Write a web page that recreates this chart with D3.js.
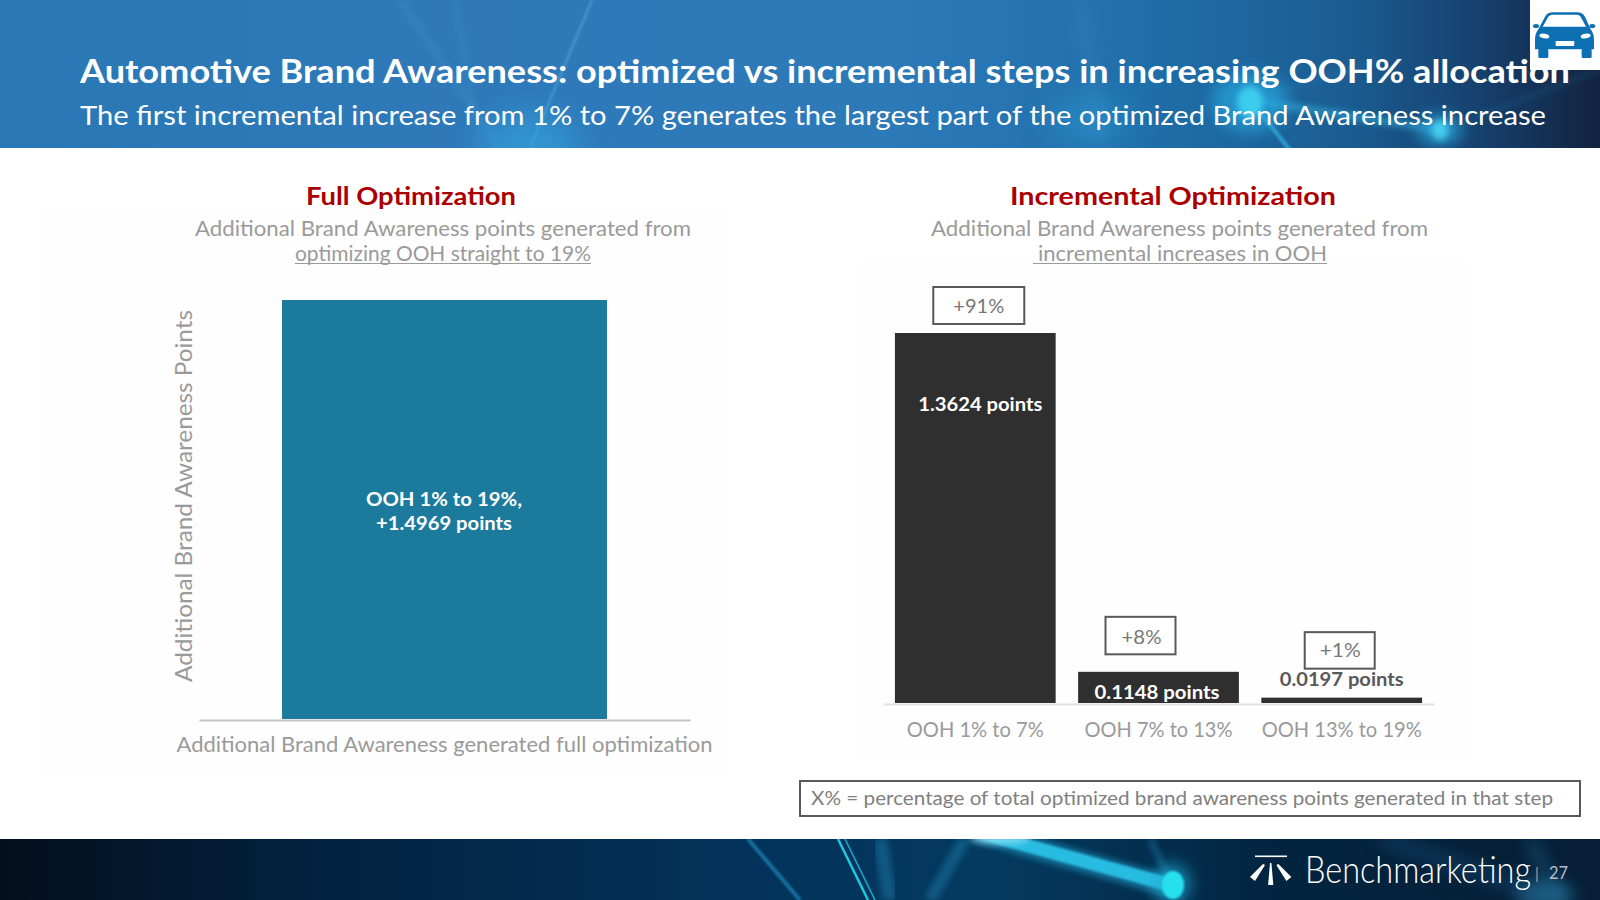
<!DOCTYPE html>
<html><head><meta charset="utf-8">
<script src="https://cdn.jsdelivr.net/npm/d3@7"></script>
<style>html,body{margin:0;padding:0;background:#fff}svg{display:block}text{font-family:Lato,"Open Sans",sans-serif}</style>
</head><body><svg id="c" width="1600" height="900"></svg>
<script>
const headline = "Automotive Brand Awareness: optimized vs incremental steps in increasing OOH% allocation";
const subhead = "The first incremental increase from 1% to 7% generates the largest part of the optimized Brand Awareness increase";
const fullTitle = "Full Optimization";
const fullSub = ["Additional Brand Awareness points generated from", "optimizing OOH straight to 19%"];
const incTitle = "Incremental Optimization";
const incSub = ["Additional Brand Awareness points generated from", "incremental increases in OOH"];
const fullCategories = ["Additional Brand Awareness generated full optimization"];
const fullValues = [1.4969];
const fullBarLabel = ["OOH 1% to 19%,", "+1.4969 points"];
const yAxisLabel = "Additional Brand Awareness Points";
const incCategories = ["OOH 1% to 7%", "OOH 7% to 13%", "OOH 13% to 19%"];
const incValues = [1.3624, 0.1148, 0.0197];
const incPointLabels = ["1.3624 points", "0.1148 points", "0.0197 points"];
const incShares = ["+91%", "+8%", "+1%"];
const footnote = "X%  = percentage of total optimized brand awareness points generated in that step";
const brand = "Benchmarketing";
const pageNumber = "27";

const svg = d3.select("#c");
const defs = svg.append("defs");
function grad(id, stops){
  const g = defs.append("linearGradient").attr("id", id);
  stops.forEach(s => g.append("stop").attr("offset", s[0]).attr("stop-color", s[1]));
}
grad("hdr", [[0,"#2a78b5"],[.3,"#2f79b9"],[.55,"#2d7ab9"],[.72,"#1f6ea9"],[.84,"#1b5d92"],[.92,"#164270"],[1,"#12233f"]]);
grad("ftr", [[0,"#030f1e"],[.2,"#03223f"],[.45,"#03325a"],[.62,"#043a60"],[.8,"#03243f"],[1,"#081e36"]]);
[1,3,8,16].forEach(b => defs.append("filter").attr("id","b"+b).attr("x","-50%").attr("y","-50%").attr("width","200%").attr("height","200%")
  .append("feGaussianBlur").attr("stdDeviation", b));
defs.append("clipPath").attr("id","hc").append("rect").attr("width",1600).attr("height",148);
defs.append("clipPath").attr("id","fc").append("rect").attr("y",839).attr("width",1600).attr("height",61);

// header band
const hb = svg.append("g").attr("clip-path","url(#hc)");
hb.append("rect").attr("width",1600).attr("height",148).attr("fill","url(#hdr)");
function ray(g,x1,y1,x2,y2,col,w,op,blur){
  g.append("line").attr("x1",x1).attr("y1",y1).attr("x2",x2).attr("y2",y2).attr("stroke",col)
   .attr("stroke-width",w).attr("opacity",op).attr("filter",blur?`url(#b${blur})`:null);
}
function glow(g,x,y,rx,ry,col,op,blur){
  g.append("ellipse").attr("cx",x).attr("cy",y).attr("rx",rx).attr("ry",ry).attr("fill",col).attr("opacity",op).attr("filter",`url(#b${blur})`);
}
ray(hb,592,0,530,148,"#4aa8dc",3,.55,1);
ray(hb,400,0,500,148,"#4a9fd8",5,.3,3);
ray(hb,455,0,480,148,"#4a9fd8",6,.18,3);
glow(hb,530,148,50,35,"#33a4dc",.65,16);
ray(hb,1080,0,1100,148,"#4a9fd8",14,.18,8);
glow(hb,1090,120,40,25,"#2fa4dc",.4,16);
ray(hb,1250,100,1440,130,"#36b0e0",7,.6,3);
ray(hb,1250,100,1290,150,"#36b0e0",4,.75,1);
ray(hb,1440,130,1440,150,"#36c0e8",6,.85,1);
ray(hb,1250,100,1380,60,"#3aa0d8",3,.25,3);
ray(hb,1440,130,1600,70,"#2a8cc8",3,.25,3);
glow(hb,1250,102,38,30,"#28a6dc",.7,8);
glow(hb,1250,102,13,16,"#3cd0f0",.95,3);
glow(hb,1440,130,22,15,"#2aa8dc",.8,8);
glow(hb,1440,130,8,10,"#48d0f0",.95,3);

// plot-area tint
svg.append("rect").attr("x",38).attr("y",212).attr("width",692).attr("height",558).attr("fill","#fefefe");
svg.append("rect").attr("x",860).attr("y",262).attr("width",610).attr("height",495).attr("fill","#fefefe");

// footer band
const fb = svg.append("g").attr("clip-path","url(#fc)");
fb.append("rect").attr("y",839).attr("width",1600).attr("height",61).attr("fill","url(#ftr)");
ray(fb,748,839,800,900,"#1f7fb0",4,.8,1);
ray(fb,880,839,890,900,"#1e7aa8",14,.5,3);
ray(fb,930,900,965,839,"#1e7aa8",12,.5,3);
ray(fb,995,839,995,900,"#1e6f9c",8,.4,3);
ray(fb,838,839,868,900,"#27d0ea",2.4,.95,0);
ray(fb,845,839,875,900,"#27c0e0",1.6,.8,0);
ray(fb,1150,839,1180,900,"#1f7fb0",5,.6,3);
ray(fb,1380,839,1560,900,"#164d78",14,.5,8);
ray(fb,1530,839,1560,900,"#1d6c94",12,.45,8);
fb.append("path").attr("d","M965,839L1040,839L1180,878L1170,897Z").attr("fill","#1d8fb8").attr("opacity",.7).attr("filter","url(#b3)");
fb.append("path").attr("d","M978,839L1028,839L1177,880L1171,892Z").attr("fill","#2cc0e6").attr("opacity",.95).attr("filter","url(#b1)");
glow(fb,1000,838,30,6,"#8fe4f4",.8,3);
glow(fb,1172,884,18,20,"#20b0d8",.7,8);
glow(fb,1173,885,11,14,"#26e0ee",1,1);
glow(fb,1545,895,30,15,"#2a84b0",.5,8);

// helper for fitted text
function label(g,str,x0,x1,y,size,fill,weight){
  return g.append("text").attr("x",x0).attr("y",y).attr("font-size",size).attr("fill",fill)
    .attr("font-weight",weight||400).attr("textLength",x1-x0).attr("lengthAdjust","spacingAndGlyphs").text(str);
}
label(svg,headline,80,1570,83,33,"#fff",700);
label(svg,subhead,80,1546,125,26.5,"#fff",400);

// car badge
svg.append("rect").attr("x",1530).attr("width",70).attr("height",70).attr("fill","#fff");
const car = svg.append("g").attr("fill","#0d70b3").attr("transform","translate(1520,0) scale(0.3333)");
car.append("path").attr("fill-rule","evenodd").attr("d","M75,50 Q82,37 100,37 H170 Q188,37 195,50 L212,88 Q222,100 222,120 V148 H45 V120 Q45,100 55,88 Z M68,80 H198 L182,50 Q178,44 170,44 H97 Q90,44 85,50 Z");
car.append("rect").attr("x",55).attr("y",146).attr("width",30).attr("height",28).attr("rx",4);
car.append("rect").attr("x",185).attr("y",146).attr("width",30).attr("height",28).attr("rx",4);
car.append("ellipse").attr("cx",48).attr("cy",78).attr("rx",9).attr("ry",6);
car.append("ellipse").attr("cx",217).attr("cy",78).attr("rx",9).attr("ry",6);
car.append("ellipse").attr("cx",73).attr("cy",108).attr("rx",15).attr("ry",7).attr("fill","#fff").attr("transform","rotate(12 73 108)");
car.append("ellipse").attr("cx",197).attr("cy",108).attr("rx",15).attr("ry",7).attr("fill","#fff").attr("transform","rotate(-12 197 108)");
car.append("rect").attr("x",107).attr("y",123).attr("width",56).attr("height",15).attr("rx",2).attr("fill","#fff");

// section titles
const red = "#ab0000", grey = "#9a9a9a", dark = "#595959";
label(svg,fullTitle,306,516,205,25,red,700);
label(svg,fullSub[0],195,691,236,20.5,grey);
label(svg,fullSub[1],295,591,261,20.5,grey);
svg.append("line").attr("x1",295).attr("x2",591).attr("y1",263.5).attr("y2",263.5).attr("stroke",grey).attr("stroke-width",1.2);
label(svg,incTitle,1010,1336,205,25,red,700);
label(svg,incSub[0],931,1428,236,20.5,grey);
label(svg,incSub[1],1038,1327,261,20.5,grey);
svg.append("line").attr("x1",1033).attr("x2",1327).attr("y1",263.5).attr("y2",263.5).attr("stroke",grey).attr("stroke-width",1.2);

// left chart
const xL = d3.scaleBand().domain(fullCategories).range([199,690]).paddingInner(.2035).paddingOuter(.2035);
const yL = d3.scaleLinear().domain([0,d3.max(fullValues)]).range([719,300]);
svg.selectAll(".fullbar").data(fullValues).join("rect").attr("class","fullbar")
  .attr("x",(d,i)=>xL(fullCategories[i])).attr("width",xL.bandwidth())
  .attr("y",d=>yL(d)).attr("height",d=>yL(0)-yL(d)).attr("fill","#1c7a9c");
const axL = svg.append("g").attr("transform","translate(0,720)").call(d3.axisBottom(xL).tickSize(0));
axL.select(".domain").attr("stroke","#c4c4c4").attr("stroke-width",2);
axL.selectAll("text").attr("font-size",20.5).attr("fill",grey).attr("y",null).attr("dy",null)
  .attr("transform","translate(0,32)").attr("textLength",536).attr("lengthAdjust","spacingAndGlyphs");
label(svg,fullBarLabel[0],366,522,506,19.5,"#fff",700);
label(svg,fullBarLabel[1],376,512,530,19.5,"#fff",700);
svg.append("text").attr("transform","translate(192,682) rotate(-90)").attr("font-size",23.5).attr("fill",grey)
  .attr("textLength",372).attr("lengthAdjust","spacingAndGlyphs").text(yAxisLabel);

// right chart
const xR = d3.scaleBand().domain(incCategories).range([883,1434]).paddingInner(.1226).paddingOuter(.065);
const yR = d3.scaleLinear().domain([0,d3.max(incValues)]).range([703,333]);
svg.selectAll(".incbar").data(incValues).join("rect").attr("class","incbar")
  .attr("x",(d,i)=>xR(incCategories[i])).attr("width",xR.bandwidth())
  .attr("y",d=>yR(d)).attr("height",d=>yR(0)-yR(d)).attr("fill","#2f2f2f");
const axR = svg.append("g").attr("transform","translate(0,704)").call(d3.axisBottom(xR).tickSize(0));
axR.select(".domain").attr("stroke","#e2e2e2").attr("stroke-width",2);
const tickW = [137,148,160];
axR.selectAll("text").attr("font-size",20.5).attr("fill",grey).attr("y",null).attr("dy",null)
  .attr("transform","translate(0,33)").attr("textLength",(d,i)=>tickW[i]).attr("lengthAdjust","spacingAndGlyphs");

// value labels, offsets from each bar
const ptOffset = [[-57,78],[-64,27],[-62,-12]];      // x from band centre, y from bar top
const ptWidth = [124,125,124];
const ptFill = ["#fff","#fff",dark];
incPointLabels.forEach((t,i)=>{
  const cx = xR(incCategories[i]) + xR.bandwidth()/2;
  label(svg,t,cx+ptOffset[i][0],cx+ptOffset[i][0]+ptWidth[i],yR(incValues[i])+ptOffset[i][1],19.5,ptFill[i],700);
});
// share boxes
const boxGeom = [{dx:-42,w:91,top:-46,h:37,tx:-22,tw:51,by:-20},
                 {dx:-53,w:70,top:-55,h:37.5,tx:-37,tw:40,by:-28},
                 {dx:-37,w:70,top:-65.5,h:36.5,tx:-22,tw:41,by:-41}];
incShares.forEach((t,i)=>{
  const cx = xR(incCategories[i]) + xR.bandwidth()/2, top = yR(incValues[i]), b = boxGeom[i];
  svg.append("rect").attr("x",cx+b.dx).attr("y",top+b.top).attr("width",b.w).attr("height",b.h)
    .attr("fill","#fff").attr("stroke",dark).attr("stroke-width",2);
  label(svg,t,cx+b.tx,cx+b.tx+b.tw,top+b.by,19.5,"#777");
});

// footnote box
svg.append("rect").attr("x",800).attr("y",781).attr("width",780).attr("height",35).attr("fill","#fff").attr("stroke",dark).attr("stroke-width",2);
label(svg,footnote,811,1553,805,19.5,"#808080");

// brand
const lg = svg.append("g").attr("fill","#fff").attr("stroke","none");
lg.append("rect").attr("x",1255).attr("y",855.5).attr("width",32).attr("height",1.6);
lg.append("path").attr("d","M1270,863 L1271.4,863 L1273.3,885 L1268.1,885Z");
lg.append("path").attr("d","M1263,864 L1265,865 L1255,881 L1250,877Z");
lg.append("path").attr("d","M1278.4,864 L1276.4,865 L1286.4,881 L1291.4,877Z");
svg.append("text").attr("transform","translate(1305,883) scale(1,1.14)").attr("font-size",33).attr("fill","#fff").attr("font-weight",300)
  .attr("textLength",226).attr("lengthAdjust","spacingAndGlyphs").text(brand);
svg.append("line").attr("x1",1537).attr("x2",1537).attr("y1",867).attr("y2",882).attr("stroke","#aab4c0").attr("stroke-width",1);
label(svg,pageNumber,1549,1568,879,17.5,"#b8bec6");
</script></body></html>
